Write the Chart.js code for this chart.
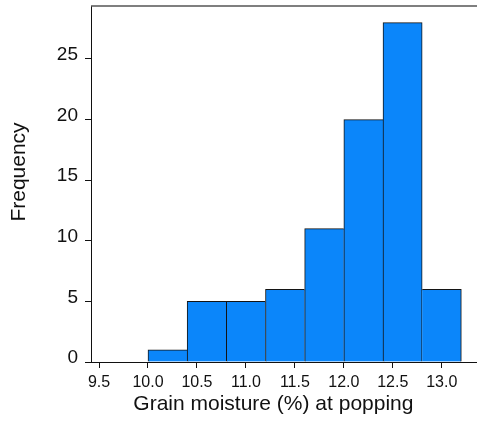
<!DOCTYPE html>
<html>
<head>
<meta charset="utf-8">
<script src="https://cdn.jsdelivr.net/npm/chart.js@4/dist/chart.umd.min.js"></script>
<style>
  html, body { margin: 0; padding: 0; background: #fff; }
  #wrap { width: 477px; height: 423px; position: relative; }
</style>
</head>
<body>
<div id="wrap"><canvas id="c"></canvas></div>
<script>
// Grain moisture histogram: bins of 0.4 % starting at 10.0
const binStarts = [10.0, 10.4, 10.8, 11.2, 11.6, 12.0, 12.4, 12.8];
const binWidth = 0.4;
const frequencies = [1, 5, 5, 6, 11, 20, 28, 6];
const xTickValues = [9.5, 10.0, 10.5, 11.0, 11.5, 12.0, 12.5, 13.0];
const yTickValues = [0, 5, 10, 15, 20, 25];
const xTitle = 'Grain moisture (%) at popping';
const yTitle = 'Frequency';

const FONT = '"Liberation Sans", Arial, Helvetica, sans-serif';

const points = binStarts.map((s, i) => ({ x: s + binWidth / 2, y: frequencies[i] }));

// One shared outline between neighbouring bins: the taller bin owns the edge.
function edgeWidths(c) {
  const i = c.dataIndex;
  if (i === undefined) return 1;
  const v = frequencies[i];
  const prev = i > 0 ? frequencies[i - 1] : -1;
  const next = i < frequencies.length - 1 ? frequencies[i + 1] : -1;
  return { top: 1, left: v >= prev ? 1 : 0, right: v > next ? 1 : 0, bottom: 0 };
}

// Frame top edge and the two axis titles
const framePlugin = {
  id: 'frame',
  afterDraw(chart) {
    const { ctx, chartArea: a } = chart;
    ctx.save();
    ctx.strokeStyle = '#555';
    ctx.lineWidth = 1.5;
    ctx.beginPath();
    ctx.moveTo(a.left, a.top);
    ctx.lineTo(a.right, a.top);
    ctx.stroke();

    ctx.fillStyle = '#111';
    ctx.font = '21px ' + FONT;
    ctx.textAlign = 'center';
    ctx.textBaseline = 'middle';
    const xs = chart.scales.x;
    const cx = (xs.getPixelForValue(xTickValues[0]) + xs.getPixelForValue(xTickValues[xTickValues.length - 1])) / 2 + 3;
    ctx.fillText(xTitle, cx, a.bottom + 42);

    ctx.translate(a.left - 72, a.top + 166);
    ctx.rotate(-Math.PI / 2);
    ctx.fillText(yTitle, 0, 0);
    ctx.restore();
  }
};

function noEdgePadding(scale) {
  scale.paddingTop = 0;
  scale.paddingBottom = 0;
  scale.paddingLeft = 0;
  scale.paddingRight = 0;
}

new Chart(document.getElementById('c'), {
  type: 'bar',
  data: {
    datasets: [{
      data: points,
      backgroundColor: '#0b86fa',
      borderColor: '#141414',
      borderWidth: edgeWidths,
      borderSkipped: false,
      barPercentage: 1,
      categoryPercentage: 1
    }]
  },
  options: {
    responsive: true,
    maintainAspectRatio: false,
    animation: false,
    events: [],
    layout: { padding: { top: 6, right: 0, left: 0, bottom: 0 } },
    plugins: { legend: { display: false }, tooltip: { enabled: false } },
    scales: {
      x: {
        type: 'linear',
        offset: false,
        min: 9.418,
        max: 13.36,
        afterBuildTicks(scale) { scale.ticks = xTickValues.map(v => ({ value: v })); },
        afterFit(scale) { scale.height = 61; noEdgePadding(scale); },
        ticks: {
          color: '#111',
          font: { family: FONT, size: 16 },
          padding: 5,
          maxRotation: 0,
          autoSkip: false,
          callback: v => v.toFixed(1)
        },
        grid: { display: true, offset: false, drawOnChartArea: false, drawTicks: true, tickLength: 6, color: '#111' },
        border: { display: true, color: '#111', width: 1 }
      },
      y: {
        type: 'linear',
        min: 0,
        max: 29.37,
        afterBuildTicks(scale) { scale.ticks = yTickValues.map(v => ({ value: v })); },
        afterFit(scale) { scale.width = 91; noEdgePadding(scale); },
        ticks: {
          color: '#111',
          font: { family: FONT, size: 19 },
          padding: 7,
          labelOffset: -4,
          callback: v => String(v)
        },
        grid: { display: true, drawOnChartArea: false, drawTicks: true, tickLength: 6, color: '#111' },
        border: { display: true, color: '#111', width: 1 }
      }
    }
  },
  plugins: [framePlugin]
});
</script>
</body>
</html>
